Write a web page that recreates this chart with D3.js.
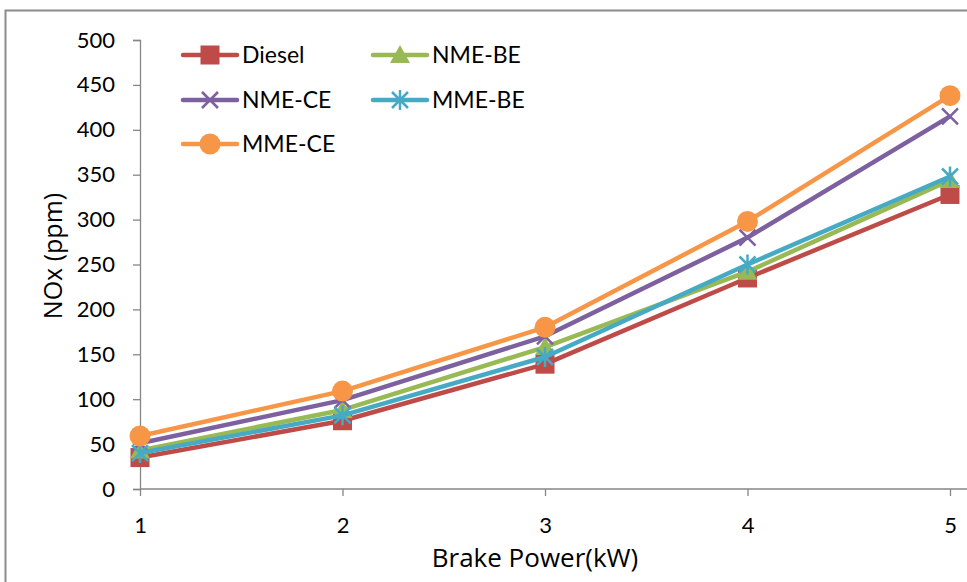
<!DOCTYPE html>
<html><head><meta charset="utf-8">
<script src="https://cdn.jsdelivr.net/npm/d3@7"></script>
<style>body{margin:0;background:#fff}svg{display:block}text{font-family:Lato,"Open Sans",sans-serif;fill:#000}</style>
</head><body>
<svg id="c" width="967" height="582"></svg>
<script>
const categories = [1, 2, 3, 4, 5];
const diesel = [35, 76, 139, 235, 328];
const nmeBE = [43, 88, 158, 242, 344];
const nmeCE = [51, 99, 170, 280, 415];
const mmeBE = [40, 82, 147, 250, 348];
const mmeCE = [59, 109, 180, 298, 438];
const yTicks = [0, 50, 100, 150, 200, 250, 300, 350, 400, 450, 500];
const seriesNames = ["Diesel", "NME-BE", "NME-CE", "MME-BE", "MME-CE"];
const seriesColors = ["#BE4B48", "#98B954", "#7D60A0", "#46AAC5", "#F79646"];
const seriesShapes = ["square", "triangle", "cross", "star", "circle"];
const seriesData = [diesel, nmeBE, nmeCE, mmeBE, mmeCE];

const svg = d3.select("#c");
// outer frame
svg.append("rect").attr("x", 5.5).attr("y", 10.5).attr("width", 1000).attr("height", 1000)
  .attr("fill", "none").attr("stroke", "#8c8c8c").attr("stroke-width", 2);

const x = d3.scaleLinear().domain([1, 5]).range([140, 950]);
const y = d3.scaleLinear().domain([0, 500]).range([489, 40]);

// y axis
const yAxis = d3.axisLeft(y).tickValues(yTicks).tickSize(7).tickPadding(18);
const gy = svg.append("g").attr("transform", "translate(140,0)").call(yAxis);
gy.selectAll("path,line").attr("stroke", "#868686").attr("stroke-width", 1.3);
gy.selectAll("text").style("font-size", "22px").attr("fill", "#000").attr("font-family", "Lato,'Open Sans',sans-serif");
// x axis
const xAxis = d3.axisBottom(x).tickValues(categories).tickFormat(d3.format("d")).tickSize(7).tickPadding(21).tickSizeOuter(0);
const gx = svg.append("g").attr("transform", "translate(0,489)").call(xAxis);
gx.select("path").attr("d", "M140,0H967");
gx.selectAll("path,line").attr("stroke", "#868686").attr("stroke-width", 1.3);
gx.selectAll("text").style("font-size", "22px").attr("fill", "#000").attr("font-family", "Lato,'Open Sans',sans-serif");

svg.append("text").attr("x", 535).attr("y", 567).attr("text-anchor", "middle").style("font-size", "26px").style("font-family", "'Open Sans',sans-serif").text("Brake Power(kW)");
svg.append("text").attr("transform", "translate(62,256) rotate(-90)").attr("text-anchor", "middle").style("font-size", "25px").style("font-family", "'Open Sans',sans-serif").text("NOx (ppm)");

function marker(g, shape, color, cx, cy) {
  if (shape === "square") {
    g.append("rect").attr("x", cx - 9.5).attr("y", cy - 9.5).attr("width", 19).attr("height", 19).attr("fill", color);
  } else if (shape === "triangle") {
    g.append("path").attr("d", `M${cx},${cy - 10}L${cx + 10},${cy + 8}L${cx - 10},${cy + 8}Z`).attr("fill", color);
  } else if (shape === "cross") {
    g.append("path").attr("d", `M${cx - 8},${cy - 8}L${cx + 8},${cy + 8}M${cx - 8},${cy + 8}L${cx + 8},${cy - 8}`).attr("stroke", color).attr("stroke-width", 2.5);
  } else if (shape === "star") {
    g.append("path").attr("d", `M${cx - 8},${cy - 8}L${cx + 8},${cy + 8}M${cx - 8},${cy + 8}L${cx + 8},${cy - 8}M${cx},${cy - 10}L${cx},${cy + 10}`).attr("stroke", color).attr("stroke-width", 2.5);
  } else {
    g.append("circle").attr("cx", cx).attr("cy", cy).attr("r", 10.5).attr("fill", color);
  }
}

const line = d3.line().x((d, i) => x(categories[i])).y(d => y(d));
seriesData.forEach((vals, s) => {
  const g = svg.append("g");
  g.append("path").datum(vals).attr("d", line).attr("fill", "none")
    .attr("stroke", seriesColors[s]).attr("stroke-width", 4.5).attr("stroke-linejoin", "round");
  vals.forEach((v, i) => marker(g, seriesShapes[s], seriesColors[s], x(categories[i]), y(v)));
});

// legend
const legPos = [[183, 55], [373, 55], [183, 100], [373, 100], [183, 144]];
seriesNames.forEach((n, s) => {
  const [lx, ly] = legPos[s];
  const g = svg.append("g");
  g.append("line").attr("x1", lx).attr("x2", lx + 54).attr("y1", ly).attr("y2", ly)
    .attr("stroke", seriesColors[s]).attr("stroke-width", 4.5).attr("stroke-linecap", "round");
  marker(g, seriesShapes[s], seriesColors[s], lx + 27, ly);
  g.append("text").attr("x", lx + 59).attr("y", ly + 8).style("font-size", "23px").text(n);
});
</script>
</body></html>
